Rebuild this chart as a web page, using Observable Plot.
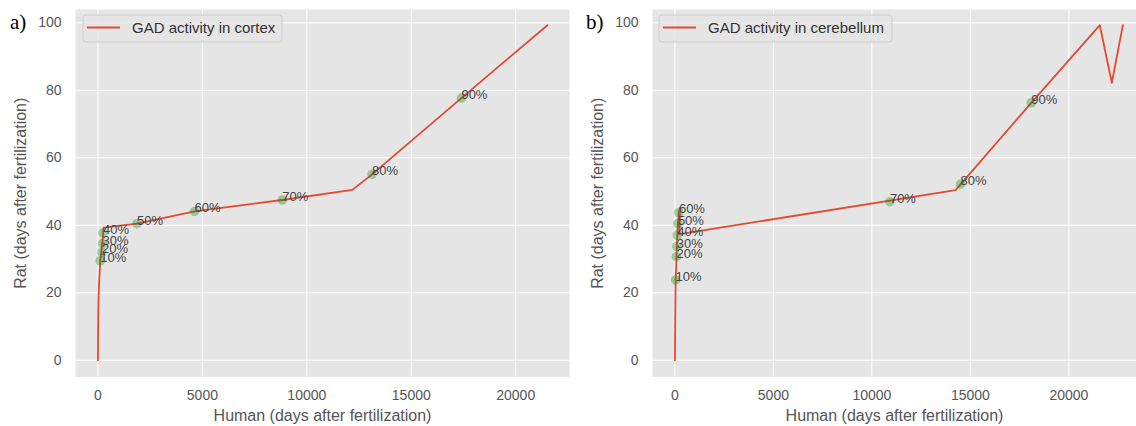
<!DOCTYPE html>
<html><head><meta charset="utf-8">
<script src="https://cdn.jsdelivr.net/npm/d3@7"></script>
<script src="https://cdn.jsdelivr.net/npm/@observablehq/plot@0.6"></script>
<style>
html,body{margin:0;padding:0;background:#fff;overflow:hidden}
#wrap{display:flex;width:1136px;height:426px;overflow:hidden}
#wrap svg{display:block;flex:none}
</style></head><body><div id="wrap"></div>
<script>
// ---- data ----
const pctLabels = ["10%","20%","30%","40%","50%","60%","70%","80%","90%"];
const xTicks = [0, 5000, 10000, 15000, 20000];
const yTicks = [0, 20, 40, 60, 80, 100];

// cortex line (human days, rat days)
const cortexHuman = [0, 5, 15, 30, 50, 80, 110, 160, 206, 240, 268, 1868, 4627, 8826, 12180, 13122, 17400, 21520];
const cortexRat   = [0, 8, 14.5, 19, 22.5, 26, 29.5, 32, 34.4, 37.2, 39.3, 40.5, 44.1, 47.5, 50.5, 55.1, 77.7, 99.3];
const cortexPctHuman = [110, 190, 220, 240, 1868, 4627, 8826, 13122, 17400];
const cortexPctRat   = [29.5, 32.0, 34.6, 37.7, 40.5, 44.1, 47.5, 55.1, 77.7];

// cerebellum line
const cerebHuman = [0, 36, 80, 95, 122, 152, 203, 254, 230, 14249, 18091, 21570, 22180, 22740];
const cerebRat   = [0, 23.8, 30.7, 33.7, 37.1, 40.5, 43.8, 45.1, 37.4, 50.4, 76.3, 99.3, 82.2, 99.3];
const cerebPctHuman = [36, 80, 95, 122, 152, 203, 10914, 14503, 18091];
const cerebPctRat   = [23.8, 30.7, 33.7, 37.1, 40.5, 43.8, 47.0, 52.2, 76.3];

const panelLetters = ["a)", "b)"];
const legendLabels = ["GAD activity in cortex", "GAD activity in cerebellum"];
const xLabel = "Human (days after fertilization)";
const yLabel = "Rat (days after fertilization)";

const RED = "#E24A33";
const FONT = "'Liberation Sans', Arial, Helvetica, sans-serif";

function makePanel(o) {
  const line = o.human.map((h, i) => ({h, r: o.rat[i]}));
  const pts = o.pctH.map((h, i) => ({h, r: o.pctR[i], label: pctLabels[i]}));
  const svg = Plot.plot({
    width: o.width, height: 426,
    marginTop: 9, marginBottom: 49.5, marginLeft: o.marginLeft, marginRight: o.marginRight,
    style: {fontFamily: FONT, background: "transparent", color: "#555", overflow: "visible"},
    x: {domain: o.xDomain, label: xLabel},
    y: {domain: [-4.95, 103.95], label: yLabel},
    marks: [
      Plot.frame({fill: "#E5E5E5", stroke: null}),
      Plot.gridX(xTicks, {stroke: "white", strokeOpacity: 1, strokeWidth: 1}),
      Plot.gridY(yTicks, {stroke: "white", strokeOpacity: 1, strokeWidth: 1}),
      Plot.axisX(xTicks, {tickSize: 0, tickPadding: 13, fontSize: 14, fill: "#555", tickFormat: d3.format("d"),
        label: xLabel, labelAnchor: "center", labelArrow: "none", labelOffset: 44}),
      Plot.axisY(yTicks, {tickSize: 0, tickPadding: 14, fontSize: 14, fill: "#555", tickFormat: d3.format("d"),
        label: yLabel, labelAnchor: "center", labelArrow: "none", labelOffset: 61}),
      Plot.line(line, {x: "h", y: "r", stroke: RED, strokeWidth: 1.8}),
      Plot.dot(pts, {x: "h", y: "r", r: 4.8, fill: "green", fillOpacity: 0.32, stroke: null}),
      Plot.text(pts, {x: "h", y: "r", text: "label", textAnchor: "start", lineAnchor: "bottom",
        fontSize: 13, fill: "#444", dy: 1})
    ]
  });
  const s = d3.select(svg);
  s.selectAll('g[aria-label="x-axis label"], g[aria-label="y-axis label"]').attr("font-size", 16);
  // legend
  const g = s.append("g").attr("text-anchor", "start");
  g.append("rect").attr("x", o.legX).attr("y", 15).attr("width", o.legW).attr("height", 27)
    .attr("rx", 3).attr("fill", "#E5E5E5").attr("fill-opacity", 0.8).attr("stroke", "#CCCCCC");
  g.append("line").attr("x1", o.legX + 4).attr("x2", o.legX + 37).attr("y1", 27.5).attr("y2", 27.5)
    .attr("stroke", RED).attr("stroke-width", 1.8);
  g.append("text").attr("x", o.legX + 49).attr("y", 33).attr("font-size", 15)
    .attr("font-family", FONT).attr("fill", "#333").text(o.legend);
  // panel letter
  g.append("text").attr("x", o.letterX).attr("y", 29).attr("font-size", 21)
    .attr("font-family", "'Liberation Serif', 'Times New Roman', serif").attr("fill", "#000").text(o.letter);
  return svg;
}

const wrap = document.getElementById("wrap");
wrap.appendChild(makePanel({
  letter: panelLetters[0], legend: legendLabels[0], human: cortexHuman, rat: cortexRat,
  pctH: cortexPctHuman, pctR: cortexPctRat, width: 575, marginLeft: 75, marginRight: 6,
  xDomain: [-1075, 22575], legX: 83, legW: 199, letterX: 10
}));
wrap.appendChild(makePanel({
  letter: panelLetters[1], legend: legendLabels[1], human: cerebHuman, rat: cerebRat,
  pctH: cerebPctHuman, pctR: cerebPctRat, width: 561, marginLeft: 77, marginRight: 0,
  xDomain: [-1137, 23432], legX: 84, legW: 233, letterX: 11
}));
</script></body></html>
